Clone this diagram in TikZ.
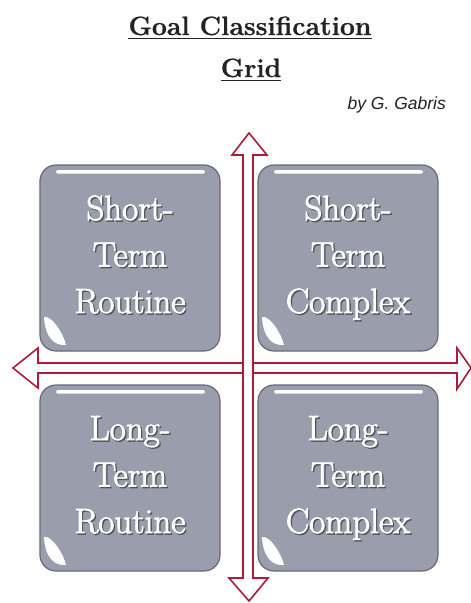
\documentclass[tikz,border=0pt]{standalone}
\usepackage{fontspec}
\newfontfamily\bylinefont{Liberation Sans}
\newfontfamily\tilefont[FakeBold=2.4]{Latin Modern Roman}
\newfontfamily\headfont[FakeBold=0.8]{Latin Modern Roman}
\usetikzlibrary{calc}
\definecolor{axisred}{RGB}{172,28,58}
\definecolor{tilefill}{RGB}{154,157,172}
\definecolor{tileedge}{RGB}{105,106,118}
\definecolor{titleink}{RGB}{35,35,35}
\tikzset{
  axis/.style={draw=axisred, line width=1.6pt, fill=white, line join=miter},
  tile/.style={draw=tileedge, line width=1.2pt, fill=tilefill, rounded corners=16pt},
  tiletext/.style={text=white, anchor=base, font=\tilefont\fontsize{35}{46}\selectfont, inner sep=0pt},
  tileshadow/.style={text=black!75, anchor=base, font=\tilefont\fontsize{35}{46}\selectfont, inner sep=0pt, opacity=0.6},
  headtext/.style={text=titleink, font=\headfont\bfseries\fontsize{26.5}{32}\selectfont, anchor=base, inner sep=0pt},
  headrule/.style={draw=titleink, line width=1.7pt},
  glint/.style={fill=white, draw=none},
}
% one line of tile text with its drop shadow
\newcommand{\tileline}[3]{%
  \node[tileshadow] at ($#1+(1.4,1.4)$) {#3};
  \node[tiletext] (#2) at #1 {#3};
}
% draws one tile: #1 = left, #2 = top, #3 = name, #4,#5,#6 = the three lines
\newcommand{\goaltile}[6]{%
  \draw[tile] (#1,#2) rectangle ++(180,186);
  \fill[glint, rounded corners=1.5pt] ($(#1,#2)+(16,5)$) rectangle ($(#1,#2)+(165,8.5)$);
  \fill[glint] ($(#1,#2)+(4,152)$) .. controls ($(#1,#2)+(12,150)$) and ($(#1,#2)+(24,170)$) ..
     ($(#1,#2)+(26,180)$) .. controls ($(#1,#2)+(14,181)$) and ($(#1,#2)+(5,172)$) .. cycle;
  \tileline{($(#1,#2)+(90,55)$)}{#3a}{#4}
  \tileline{($(#1,#2)+(90,101.5)$)}{#3b}{#5}
  \tileline{($(#1,#2)+(90,148)$)}{#3c}{#6}
}
\begin{document}
\begin{tikzpicture}[x=1pt, y=-1pt]
  \useasboundingbox (0,0) rectangle (471,603);
  \fill[white] (0,0) rectangle (471,603);

  % title, underlined, and byline
  \node[headtext] (title1) at (250,35) {Goal Classification};
  \draw[headrule] ($(title1.base west)+(0,3.5)$) -- ($(title1.base east)+(0,3.5)$);
  \node[headtext] (title2) at (251,77) {Grid};
  \draw[headrule] ($(title2.base west)+(0,3.5)$) -- ($(title2.base east)+(0,3.5)$);
  \node[text=titleink, font=\bylinefont\itshape\fontsize{17.5}{20}\selectfont, anchor=base east, inner sep=0pt]
    (byline) at (446,109) {by G. Gabris};

  % horizontal double-headed block arrow
  \draw[axis] (13,368) -- (38,348) -- (38,363) -- (457,363) -- (457,348) -- (471,368)
     -- (457,389) -- (457,373) -- (38,373) -- (38,388) -- cycle;
  % vertical double-headed block arrow, drawn over the horizontal one
  \draw[axis] (249,133) -- (267,155) -- (253,155) -- (253,578) -- (268,578) -- (249,601)
     -- (229,578) -- (243,578) -- (243,155) -- (232,155) -- cycle;

  % four goal tiles
  \goaltile{40}{165}{str}{Short-}{Term}{Routine}
  \goaltile{258}{165}{stc}{Short-}{Term}{Complex}
  \goaltile{40}{385}{ltr}{Long-}{Term}{Routine}
  \goaltile{258}{385}{ltc}{Long-}{Term}{Complex}
\end{tikzpicture}
\end{document}
